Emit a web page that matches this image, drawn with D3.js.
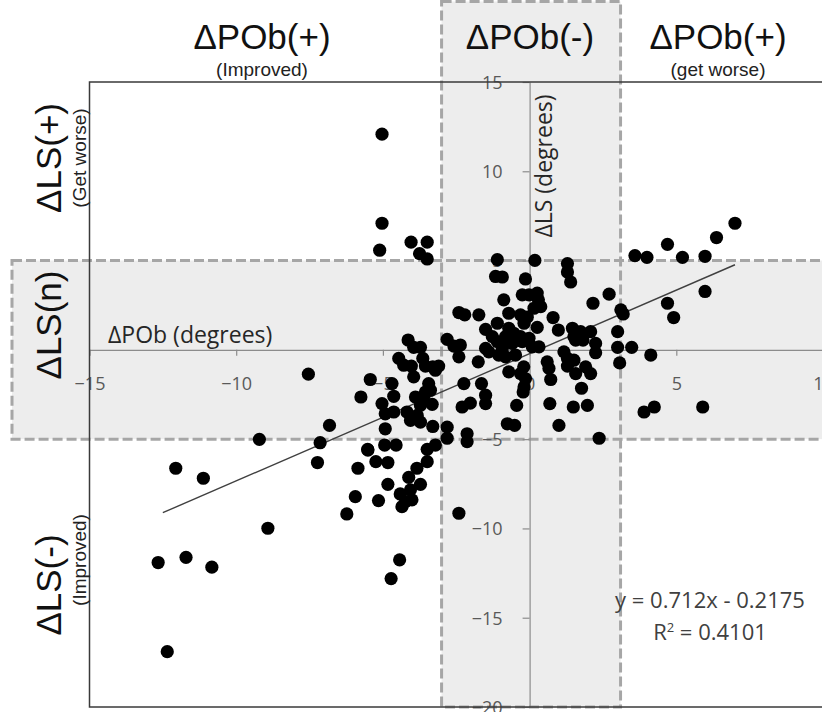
<!DOCTYPE html>
<html>
<head>
<meta charset="utf-8">
<script src="https://cdn.jsdelivr.net/npm/d3@7/dist/d3.min.js"></script>
<style>
    body { margin: 0; background: #fff; }
    svg { display: block; }
    .axis text { font-family: "Open Sans", sans-serif; font-size: 18px; fill: #595959; }
    .axis path, .axis line { stroke: #8c8c8c; stroke-width: 1.2; }
    .zone-title { font-family: "Liberation Sans", Arial, sans-serif; font-size: 35px; fill: #111; }
    .zone-sub { font-family: "Liberation Sans", Arial, sans-serif; font-size: 19px; fill: #222; }
    .axis-title { font-family: "Open Sans", sans-serif; font-size: 23px; fill: #262626; }
    .fit-text { font-family: "Open Sans", sans-serif; font-size: 22px; fill: #404040; }
</style>
</head>
<body>
<div id="chart"></div>
<script>
/* jshint esversion: 6 */
(function()
{
    "use strict";

    // #########################################################################
    // data: change of pelvic obliquity (x) vs change of lumbar scoliosis (y)
    var pob = [
        -12.35, -12.66, -11.71, -10.83, -12.06, -11.12, -8.92, -9.21, -7.54, -6.82,
        -7.14, -7.23, -4.43, -4.72, -2.41, -5.03, -5.03, -5.11, -4.04, -3.49,
        -3.75, -3.49, 7.0, 6.37, 4.70, 3.59, 4.0, 5.21, 5.98, 5.98,
        4.70, 4.91, 4.13, 3.90, 4.25, 5.90, 2.37, -5.43, -5.75, -4.69,
        -4.63, -5.03, -4.92, -4.63, -4.18, -4.06, -3.83, -3.72, -3.89, -3.61,
        -3.72, -3.32, -3.55, -3.38, -3.30, -2.81, -2.81, -2.30, -2.02, -1.50,
        -1.50, -2.13, -2.13, -4.92, -4.94, -4.55, -5.51, -3.49, -3.21, -5.24,
        -4.83, -3.49, -5.85, -3.84, -4.12, -4.83, -3.72, -4.06, -4.41, -4.01,
        -4.23, -4.35, -5.94, -5.15, -6.23, -5.52, -3.44, -2.24, -1.64, -3.95,
        -4.14, -3.95, -3.72, -4.46, -4.29, -4.03, -3.64, -3.55, -3.30, -3.10,
        -3.21, -2.81, -2.58, -2.36, -2.41, -1.50, -1.39, -1.75, -1.50, -1.27,
        -2.41, -2.21, -1.73, -1.10, 0.18, 1.29, 1.29, 1.40, -1.16, -0.93,
        -0.14, 2.71, 2.16, 3.11, 3.19, -0.88, -0.25, -0.02, 0.26, 0.30,
        0.38, 0.15, -0.71, -0.31, -0.08, -0.19, -1.10, 0.80, 0.26, -0.71,
        -0.54, -0.82, -0.31, -0.02, 0.98, 1.46, 1.74, 2.08, 1.51, 1.57,
        1.82, 2.25, 2.25, 3.0, 3.0, 3.48, 3.07, -1.10, -0.93, -1.05,
        -0.82, -0.59, -0.25, 0.09, 0.32, -0.48, -0.20, -0.71, 1.17, 1.29,
        1.51, 1.29, 0.60, 0.66, 1.57, 1.91, 2.08, 0.72, -0.14, -0.19,
        1.77, -0.22, -0.44, -0.76, -0.51, 0.69, 1.0, 1.97, 1.49, -0.31
    ];
    var ls = [
        -16.90, -11.91, -11.62, -12.17, -6.63, -7.19, -9.99, -5.01, -1.36, -4.23,
        -5.20, -6.31, -11.76, -12.81, -9.15, 12.08, 7.09, 5.58, 6.03, 6.03,
        5.39, 5.09, 7.09, 6.29, 5.91, 5.28, 5.18, 5.18, 5.24, 3.27,
        2.61, 1.81, -0.29, -3.48, -3.20, -3.20, -4.95, -1.66, -2.64, -1.89,
        -2.60, -3.01, -3.58, -3.48, -3.48, -3.95, -3.67, -4.05, -2.64, -2.64,
        -3.11, -3.05, -2.36, -2.26, -4.29, -4.33, -4.95, -3.20, -2.98, -2.54,
        -3.01, -4.70, -5.14, -4.42, -5.33, -5.33, -5.61, -5.57, -5.33, -6.26,
        -6.31, -6.26, -6.63, -6.63, -7.14, -7.53, -7.53, -7.84, -8.07, -8.40,
        -8.50, -8.78, -8.22, -8.44, -9.19, -5.57, -1.89, -1.89, -1.89, -1.51,
        0.55, 0.14, 0.14, -0.48, -0.86, -0.91, -0.48, -0.91, -0.95, -0.91,
        -1.14, 0.59, 0.21, 0.27, -0.39, 0.08, -0.11, -0.67, 1.15, 0.74,
        2.09, 1.96, 1.96, 5.05, 5.01, 4.83, 4.36, 3.80, 4.11, 4.08,
        3.97, 3.12, 2.61, 2.24, 2.01, 2.80, 3.08, 3.08, 3.18, 2.80,
        2.42, 2.33, 2.05, 1.96, 1.83, 1.49, 1.49, 1.81, 1.26, 1.21,
        0.93, 0.74, 0.74, 0.65, 1.11, 1.21, 1.02, 1.02, 0.74, 0.55,
        0.55, 0.36, -0.16, 1.02, 0.14, 0.14, -0.73, 0.46, 0.08, -0.29,
        -0.39, 0.36, 0.46, 0.17, 0.17, -0.29, -0.95, -1.23, -0.11, -0.48,
        -0.58, -0.91, -0.67, -1.04, -1.33, -0.95, -1.33, -1.66, -1.61, -2.08,
        -2.15, -2.36, -3.11, -4.14, -4.23, -3.01, -4.23, -3.11, -3.20, -1.33
    ];

    var xTicks = [-15, -10, -5, 0, 5, 10];
    var yTicks = [15, 10, 5, -5, -10, -15, -20];

    // linear trend line as printed on the chart
    var fitSlope = 0.712;
    var fitIntercept = -0.2175;
    var fitR2 = 0.4101;
    var fitRange = [-12.5, 7.0];

    // the shaded "no change" zones
    var pobBand = [-3, 3.1];
    var lsBand = [-5, 5];
    // #########################################################################

    var width = 822, h = 712;

    var svg = d3.select("#chart")
                .append("svg")
                .attr("width", width)
                .attr("height", h);

    var xScale = d3.scaleLinear()
                   .domain([-15, 10])
                   .range([89.5, 823]);

    var yScale = d3.scaleLinear()
                   .domain([-20, 15])
                   .range([707, 82]);

    // #########################################################################
    // shaded zones (fill first, dashed border drawn after)
    var bandColor = "#ededed";
    var hBand = {x: 12, y: yScale(lsBand[1]), w: 830 - 12, h: yScale(lsBand[0]) - yScale(lsBand[1])};
    var vBand = {x: xScale(pobBand[0]), y: 1.5, w: xScale(pobBand[1]) - xScale(pobBand[0]), h: yScale(-20) - 1.5};

    [hBand, vBand].forEach(function(b) {
        svg.append("rect")
           .attr("x", b.x).attr("y", b.y)
           .attr("width", b.w).attr("height", b.h)
           .attr("fill", bandColor);
    });
    [hBand, vBand].forEach(function(b) {
        svg.append("rect")
           .attr("x", b.x).attr("y", b.y)
           .attr("width", b.w).attr("height", b.h)
           .attr("fill", "none")
           .attr("stroke", "#a6a6a6")
           .attr("stroke-width", 3)
           .attr("stroke-dasharray", "10,4");
    });

    // #########################################################################
    // axes crossing at (0,0)
    var xAxis = d3.axisBottom(xScale).tickValues(xTicks).tickSize(6).tickSizeOuter(0).tickPadding(21);
    var yAxis = d3.axisLeft(yScale).tickValues(yTicks).tickSize(7).tickSizeOuter(0).tickPadding(20);

    svg.append("g")
       .attr("class", "axis")
       .attr("transform", `translate(0, ${yScale(0)})`)
       .call(xAxis);

    svg.append("g")
       .attr("class", "axis")
       .attr("transform", `translate(${xScale(0)}, 0)`)
       .call(yAxis)
       .selectAll("text").attr("dy", "0.35em");

    svg.append("text")
       .attr("class", "axis-title")
       .attr("x", 108).attr("y", 343)
       .text("ΔPOb (degrees)");

    svg.append("text")
       .attr("class", "axis-title")
       .attr("text-anchor", "middle")
       .attr("transform", "translate(552,166) rotate(-90)")
       .text("ΔLS (degrees)");

    // #########################################################################
    // trend line + points
    var line = d3.line()
                 .x(function(d) { return xScale(d); })
                 .y(function(d) { return yScale(fitSlope * d + fitIntercept); });

    svg.append("path")
       .datum(fitRange)
       .attr("d", line)
       .attr("stroke", "#404040")
       .attr("stroke-width", 1.4)
       .attr("fill", "none");

    svg.append("g")
       .selectAll("circle")
       .data(d3.range(pob.length))
       .enter().append("circle")
       .attr("cx", function(i) { return xScale(pob[i]); })
       .attr("cy", function(i) { return yScale(ls[i]); })
       .attr("r", 6.6)
       .attr("fill", "#000");

    // plot frame
    svg.append("rect")
       .attr("x", xScale(-15)).attr("y", yScale(15))
       .attr("width", xScale(10) - xScale(-15))
       .attr("height", yScale(-20) - yScale(15))
       .attr("fill", "none")
       .attr("stroke", "#3a3a3a")
       .attr("stroke-width", 1.5);

    // #########################################################################
    // equation text
    var sign = fitIntercept < 0 ? "- " : "+ ";
    svg.append("text")
       .attr("class", "fit-text")
       .attr("x", 710).attr("y", 608)
       .attr("text-anchor", "middle")
       .text(`y = ${fitSlope}x ${sign}${Math.abs(fitIntercept)}`);

    var r2 = svg.append("text")
                .attr("class", "fit-text")
                .attr("x", 710).attr("y", 640)
                .attr("text-anchor", "middle");
    r2.append("tspan").text("R");
    r2.append("tspan").attr("font-size", "13px").attr("dy", "-8").text("2");
    r2.append("tspan").attr("dy", "8").text(` = ${fitR2}`);

    // #########################################################################
    // zone headers
    var topHeads = [
        {t: "ΔPOb(+)", s: "(Improved)", x: 262},
        {t: "ΔPOb(-)", s: "", x: 530},
        {t: "ΔPOb(+)", s: "(get worse)", x: 718}
    ];
    topHeads.forEach(function(d) {
        svg.append("text").attr("class", "zone-title")
           .attr("x", d.x).attr("y", 49).attr("text-anchor", "middle").text(d.t);
        if (d.s)
            svg.append("text").attr("class", "zone-sub")
               .attr("x", d.x).attr("y", 76).attr("text-anchor", "middle").text(d.s);
    });

    var sideHeads = [
        {t: "ΔLS(+)", s: "(Get worse)", y: 158},
        {t: "ΔLS(n)", s: "", y: 325},
        {t: "ΔLS(-)", s: "(Improved)", y: 585}
    ];
    sideHeads.forEach(function(d) {
        svg.append("text").attr("class", "zone-title")
           .attr("font-size", "32px")
           .attr("text-anchor", "middle")
           .attr("transform", `translate(61,${d.y}) rotate(-90)`).text(d.t);
        if (d.s)
            svg.append("text").attr("class", "zone-sub")
               .attr("text-anchor", "middle")
               .attr("font-size", "15px")
               .attr("transform", `translate(86,${d.y - (d.y > 400 ? 25 : 0)}) rotate(-90)`).text(d.s);
    });
}
)();
</script>
</body>
</html>
